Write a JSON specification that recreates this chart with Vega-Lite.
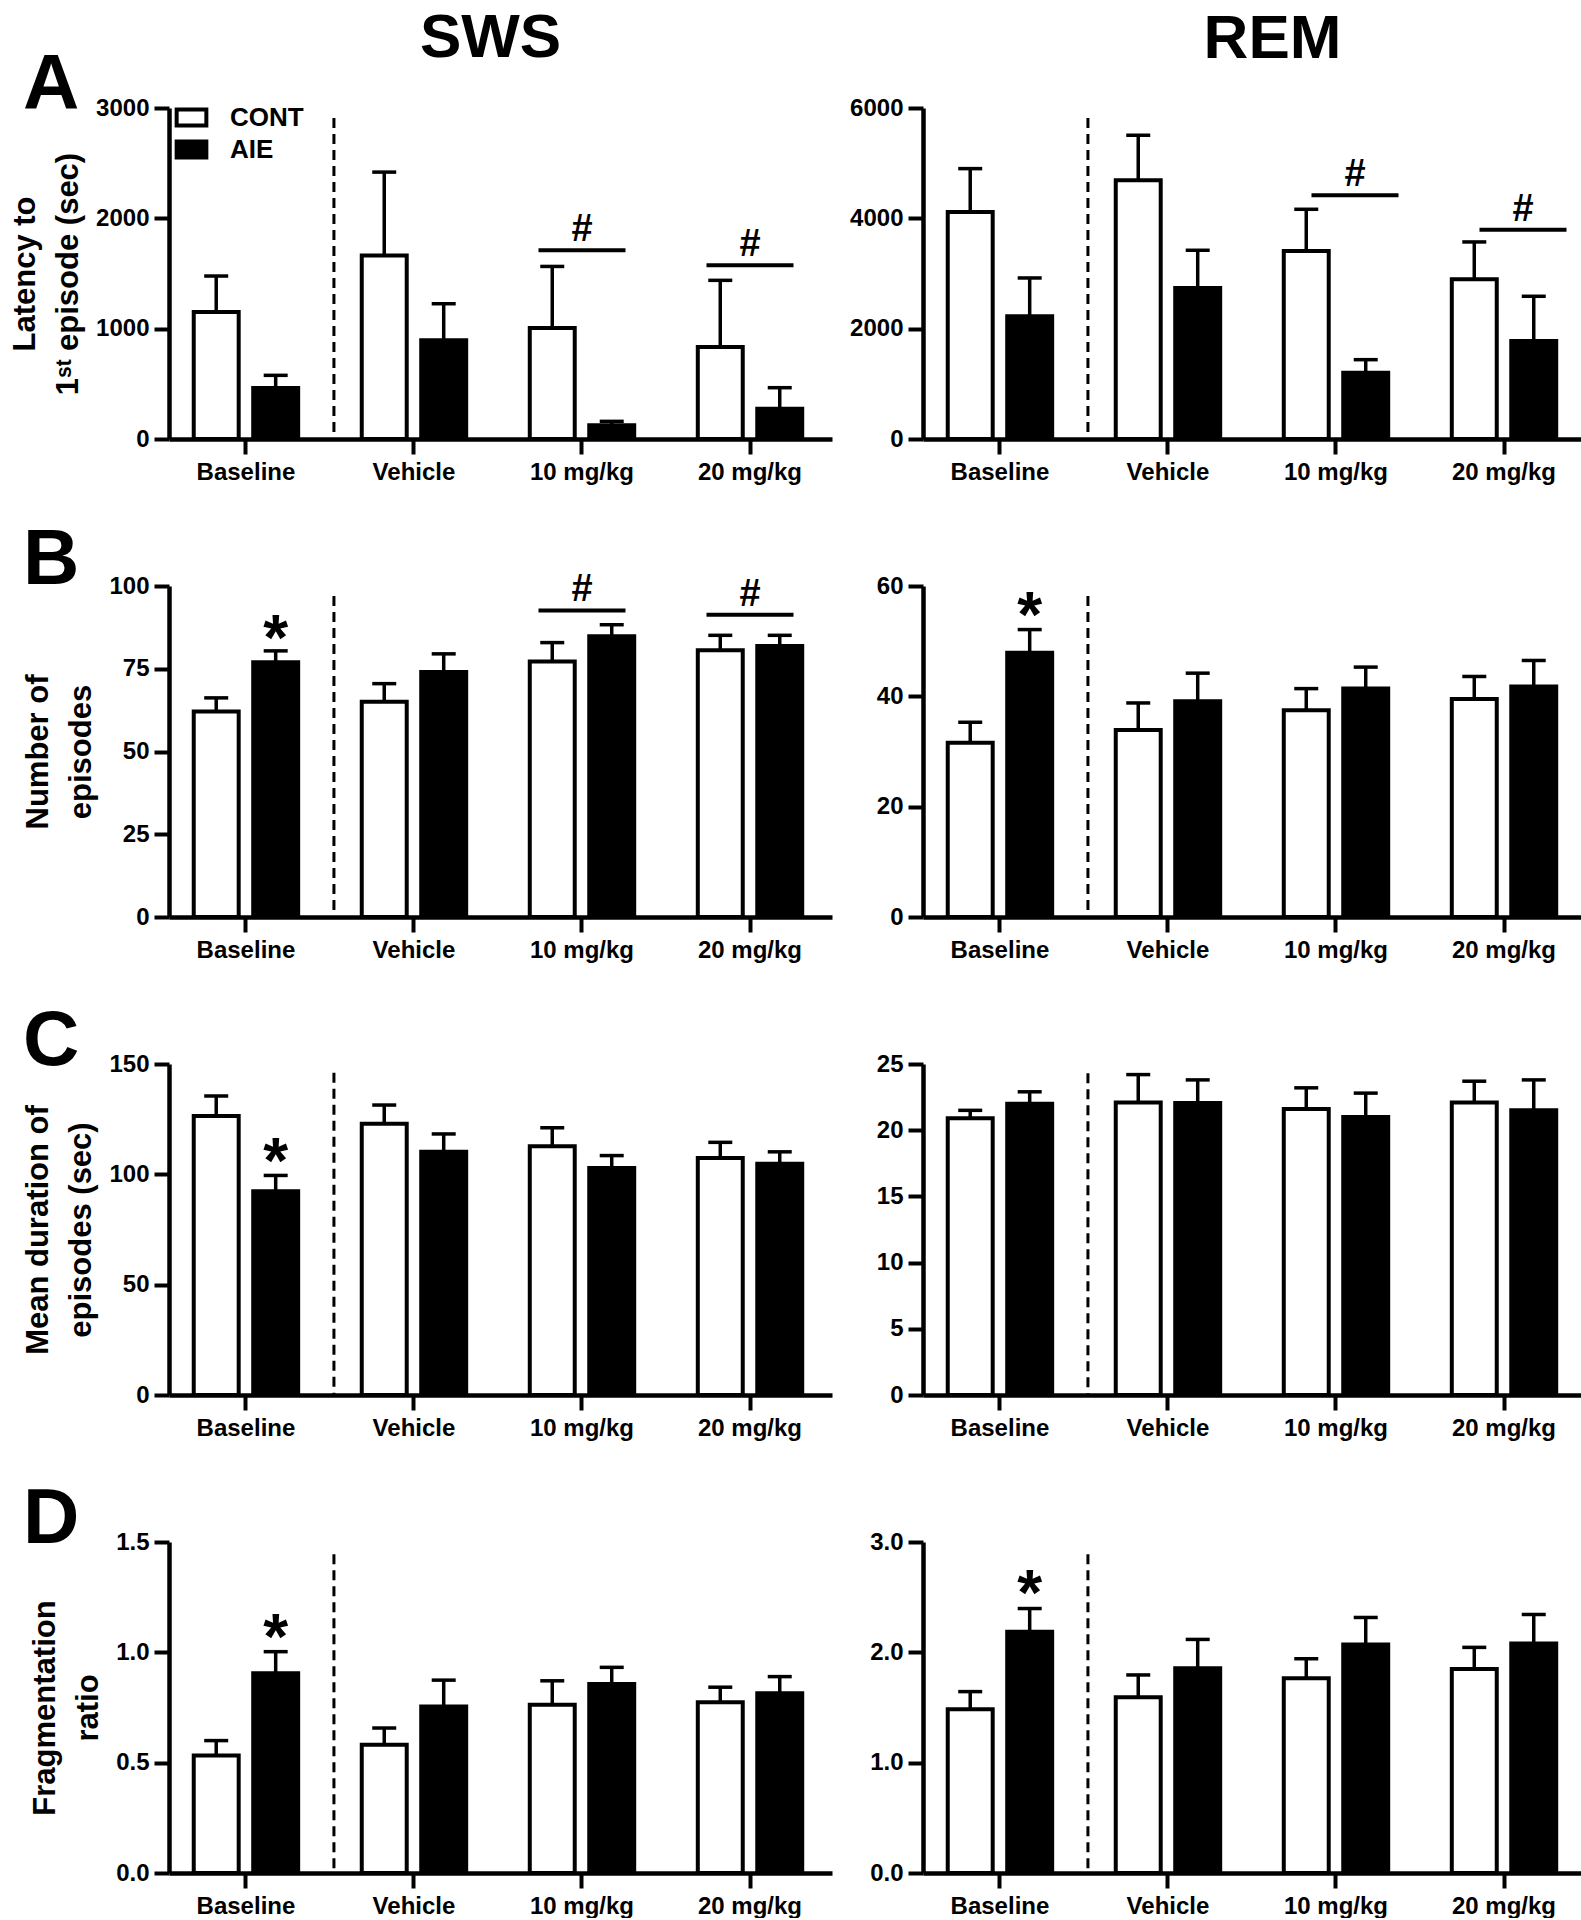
{
"$schema": "https://vega.github.io/schema/vega-lite/v6.json",
"background": "white",
"padding": {"left": 9, "top": 7, "right": 0, "bottom": 0},
"config": {
  "font": "Liberation Sans",
  "view": {"stroke": null},
  "axis": {"domainColor": "black", "domainWidth": 4.5, "tickColor": "black", "tickWidth": 4, "tickSize": 15, "labelFont": "Liberation Sans", "labelFontWeight": "bold", "labelFontSize": 24, "labelColor": "black", "grid": false, "titleFont": "Liberation Sans", "titleFontWeight": "bold", "titleFontSize": 31, "titleColor": "black", "labelPadding": 5},
  "axisX": {"labelAngle": 0, "labelPadding": 6, "labelFlush": false},
  "axisY": {"titlePadding": 11, "titleLineHeight": 43},
  "tick": {"opacity": 1},
  "title": {"font": "Liberation Sans", "fontWeight": "bold", "color": "black"}
},
"title": {"text": "SWS", "fontSize": 62, "fontWeight": "bold", "anchor": "start", "align": "left", "frame": "group", "dx": 251, "offset": -111, "baseline": "alphabetic", "color": "black"},
"columns": 2,
"spacing": {"row": 147, "column": 91},
"bounds": "flush",
"resolve": {"scale": {"fill": "independent", "xOffset": "independent"}, "legend": {"fill": "independent"}},
"concat": [
 {
  "width": 663, "height": 331,
  "title": {"text": "A", "anchor": "start", "frame": "group", "dx": -146, "offset": -91, "baseline": "alphabetic", "fontSize": 78, "fontWeight": "bold", "color": "black"},
  "data": {"values": [
   {"condition": "Baseline", "group": "CONT", "mean": 1150, "upper": 1477},
   {"condition": "Baseline", "group": "AIE", "mean": 462, "upper": 577},
   {"condition": "Vehicle", "group": "CONT", "mean": 1664, "upper": 2419},
   {"condition": "Vehicle", "group": "AIE", "mean": 894, "upper": 1226},
   {"condition": "10 mg/kg", "group": "CONT", "mean": 1006, "upper": 1564},
   {"condition": "10 mg/kg", "group": "AIE", "mean": 124, "upper": 160},
   {"condition": "20 mg/kg", "group": "CONT", "mean": 834, "upper": 1438},
   {"condition": "20 mg/kg", "group": "AIE", "mean": 275, "upper": 465}
  ]},
  "layer": [
   {"mark": {"type": "bar", "stroke": "black", "strokeWidth": 4},
    "encoding": {
     "x": {"field": "condition", "type": "nominal", "title": null, "scale": {"domain": ["Baseline", "Vehicle", "10 mg/kg", "20 mg/kg"], "paddingInner": 0.084, "paddingOuter": 0.015, "align": 0}},
     "xOffset": {"field": "group", "type": "nominal", "scale": {"domain": ["CONT", "AIE"], "paddingInner": 0.244, "paddingOuter": 0.416}},
     "y": {"field": "mean", "type": "quantitative", "scale": {"domain": [0, 3000], "nice": false}, "axis": {"values": [0, 1000, 2000, 3000], "format": "d", "title": ["Latency to", "1ˢᵗ episode (sec)"]}},
     "fill": {"field": "group", "type": "nominal", "scale": {"domain": ["CONT", "AIE"], "range": ["white", "black"]},
      "legend": {"orient": "none", "legendX": 7, "legendY": -6, "title": null, "symbolType": "M-1.1,-0.6H1.1V0.6H-1.1Z", "symbolSize": 729, "symbolStrokeColor": "black", "symbolStrokeWidth": 4, "labelFontSize": 26, "labelFontWeight": "bold", "labelColor": "black", "labelFont": "Liberation Sans", "labelOffset": 23, "rowPadding": -2, "padding": 0}}
    }},
   {"mark": {"type": "rule", "color": "black", "strokeWidth": 3.5},
    "encoding": {
     "x": {"field": "condition", "type": "nominal", "title": null, "scale": {"domain": ["Baseline", "Vehicle", "10 mg/kg", "20 mg/kg"], "paddingInner": 0.084, "paddingOuter": 0.015, "align": 0}},
     "xOffset": {"field": "group", "type": "nominal", "scale": {"domain": ["CONT", "AIE"], "paddingInner": 0.244, "paddingOuter": 0.416}},
     "y": {"field": "mean", "type": "quantitative", "scale": {"domain": [0, 3000], "nice": false}},
     "y2": {"field": "upper"}
    }},
   {"mark": {"type": "tick", "color": "black", "opacity": 1, "size": 24, "thickness": 3.5},
    "encoding": {
     "x": {"field": "condition", "type": "nominal", "title": null, "scale": {"domain": ["Baseline", "Vehicle", "10 mg/kg", "20 mg/kg"], "paddingInner": 0.084, "paddingOuter": 0.015, "align": 0}},
     "xOffset": {"field": "group", "type": "nominal", "scale": {"domain": ["CONT", "AIE"], "paddingInner": 0.244, "paddingOuter": 0.416}},
     "y": {"field": "upper", "type": "quantitative", "scale": {"domain": [0, 3000], "nice": false}}
    }},
   {"data": {"values": [{"condition": "Vehicle"}]},
    "mark": {"type": "rule", "color": "black", "strokeWidth": 3, "strokeDash": [10, 6]},
    "encoding": {
     "x": {"field": "condition", "type": "nominal", "title": null, "bandPosition": -0.02, "scale": {"domain": ["Baseline", "Vehicle", "10 mg/kg", "20 mg/kg"], "paddingInner": 0.084, "paddingOuter": 0.015, "align": 0}},
     "y": {"datum": 2910, "type": "quantitative", "scale": {"domain": [0, 3000], "nice": false}},
     "y2": {"datum": 0}
    }},
   {"data": {"values": [{"condition": "10 mg/kg", "y": 1710, "label": "#"}, {"condition": "20 mg/kg", "y": 1574, "label": "#"}]},
    "layer": [
     {"mark": {"type": "tick", "color": "black", "opacity": 1, "size": 87, "thickness": 4},
      "encoding": {
       "x": {"field": "condition", "type": "nominal", "title": null, "scale": {"domain": ["Baseline", "Vehicle", "10 mg/kg", "20 mg/kg"], "paddingInner": 0.084, "paddingOuter": 0.015, "align": 0}},
       "y": {"field": "y", "type": "quantitative", "scale": {"domain": [0, 3000], "nice": false}}
      }},
     {"mark": {"type": "text", "fontSize": 38, "fontWeight": "bold", "baseline": "alphabetic", "dy": -9, "color": "black"},
      "encoding": {
       "x": {"field": "condition", "type": "nominal", "title": null, "scale": {"domain": ["Baseline", "Vehicle", "10 mg/kg", "20 mg/kg"], "paddingInner": 0.084, "paddingOuter": 0.015, "align": 0}},
       "y": {"field": "y", "type": "quantitative", "scale": {"domain": [0, 3000], "nice": false}},
       "text": {"field": "label"}
      }}
    ]}
  ]
 },
 {
  "width": 663, "height": 331,
  "title": {"text": "REM", "anchor": "middle", "frame": "group", "dx": 18, "offset": -24, "baseline": "alphabetic", "fontSize": 62, "fontWeight": "bold", "color": "black"},
  "data": {"values": [
   {"condition": "Baseline", "group": "CONT", "mean": 4115, "upper": 4901},
   {"condition": "Baseline", "group": "AIE", "mean": 2224, "upper": 2919},
   {"condition": "Vehicle", "group": "CONT", "mean": 4690, "upper": 5506},
   {"condition": "Vehicle", "group": "AIE", "mean": 2738, "upper": 3421},
   {"condition": "10 mg/kg", "group": "CONT", "mean": 3408, "upper": 4164},
   {"condition": "10 mg/kg", "group": "AIE", "mean": 1203, "upper": 1438},
   {"condition": "20 mg/kg", "group": "CONT", "mean": 2895, "upper": 3572},
   {"condition": "20 mg/kg", "group": "AIE", "mean": 1777, "upper": 2587}
  ]},
  "layer": [
   {"mark": {"type": "bar", "stroke": "black", "strokeWidth": 4},
    "encoding": {
     "x": {"field": "condition", "type": "nominal", "title": null, "scale": {"domain": ["Baseline", "Vehicle", "10 mg/kg", "20 mg/kg"], "paddingInner": 0.084, "paddingOuter": 0.015, "align": 0}},
     "xOffset": {"field": "group", "type": "nominal", "scale": {"domain": ["CONT", "AIE"], "paddingInner": 0.244, "paddingOuter": 0.416}},
     "y": {"field": "mean", "type": "quantitative", "scale": {"domain": [0, 6000], "nice": false}, "axis": {"values": [0, 2000, 4000, 6000], "format": "d", "title": null}},
     "fill": {"field": "group", "type": "nominal", "scale": {"domain": ["CONT", "AIE"], "range": ["white", "black"]}, "legend": null}
    }},
   {"mark": {"type": "rule", "color": "black", "strokeWidth": 3.5},
    "encoding": {
     "x": {"field": "condition", "type": "nominal", "title": null, "scale": {"domain": ["Baseline", "Vehicle", "10 mg/kg", "20 mg/kg"], "paddingInner": 0.084, "paddingOuter": 0.015, "align": 0}},
     "xOffset": {"field": "group", "type": "nominal", "scale": {"domain": ["CONT", "AIE"], "paddingInner": 0.244, "paddingOuter": 0.416}},
     "y": {"field": "mean", "type": "quantitative", "scale": {"domain": [0, 6000], "nice": false}},
     "y2": {"field": "upper"}
    }},
   {"mark": {"type": "tick", "color": "black", "opacity": 1, "size": 24, "thickness": 3.5},
    "encoding": {
     "x": {"field": "condition", "type": "nominal", "title": null, "scale": {"domain": ["Baseline", "Vehicle", "10 mg/kg", "20 mg/kg"], "paddingInner": 0.084, "paddingOuter": 0.015, "align": 0}},
     "xOffset": {"field": "group", "type": "nominal", "scale": {"domain": ["CONT", "AIE"], "paddingInner": 0.244, "paddingOuter": 0.416}},
     "y": {"field": "upper", "type": "quantitative", "scale": {"domain": [0, 6000], "nice": false}}
    }},
   {"data": {"values": [{"condition": "Vehicle"}]},
    "mark": {"type": "rule", "color": "black", "strokeWidth": 3, "strokeDash": [10, 6]},
    "encoding": {
     "x": {"field": "condition", "type": "nominal", "title": null, "bandPosition": -0.02, "scale": {"domain": ["Baseline", "Vehicle", "10 mg/kg", "20 mg/kg"], "paddingInner": 0.084, "paddingOuter": 0.015, "align": 0}},
     "y": {"datum": 5820, "type": "quantitative", "scale": {"domain": [0, 6000], "nice": false}},
     "y2": {"datum": 0}
    }},
   {"data": {"values": [{"condition": "10 mg/kg", "y": 4418, "label": "#"}, {"condition": "20 mg/kg", "y": 3795, "label": "#"}]},
    "layer": [
     {"mark": {"type": "tick", "color": "black", "opacity": 1, "size": 87, "thickness": 4, "xOffset": 19},
      "encoding": {
       "x": {"field": "condition", "type": "nominal", "title": null, "scale": {"domain": ["Baseline", "Vehicle", "10 mg/kg", "20 mg/kg"], "paddingInner": 0.084, "paddingOuter": 0.015, "align": 0}},
       "y": {"field": "y", "type": "quantitative", "scale": {"domain": [0, 6000], "nice": false}}
      }},
     {"mark": {"type": "text", "fontSize": 38, "fontWeight": "bold", "baseline": "alphabetic", "dy": -9, "xOffset": 19, "color": "black"},
      "encoding": {
       "x": {"field": "condition", "type": "nominal", "title": null, "scale": {"domain": ["Baseline", "Vehicle", "10 mg/kg", "20 mg/kg"], "paddingInner": 0.084, "paddingOuter": 0.015, "align": 0}},
       "y": {"field": "y", "type": "quantitative", "scale": {"domain": [0, 6000], "nice": false}},
       "text": {"field": "label"}
      }}
    ]}
  ]
 },
 {
  "width": 663, "height": 331,
  "title": {"text": "B", "anchor": "start", "frame": "group", "dx": -146, "offset": -91, "baseline": "alphabetic", "fontSize": 78, "fontWeight": "bold", "color": "black"},
  "data": {"values": [
   {"condition": "Baseline", "group": "CONT", "mean": 62.1, "upper": 66.2},
   {"condition": "Baseline", "group": "AIE", "mean": 77.0, "upper": 80.4},
   {"condition": "Vehicle", "group": "CONT", "mean": 65.0, "upper": 70.5},
   {"condition": "Vehicle", "group": "AIE", "mean": 74.0, "upper": 79.5},
   {"condition": "10 mg/kg", "group": "CONT", "mean": 77.2, "upper": 82.9},
   {"condition": "10 mg/kg", "group": "AIE", "mean": 84.8, "upper": 88.3},
   {"condition": "20 mg/kg", "group": "CONT", "mean": 80.6, "upper": 85.1},
   {"condition": "20 mg/kg", "group": "AIE", "mean": 81.9, "upper": 85.1}
  ]},
  "layer": [
   {"mark": {"type": "bar", "stroke": "black", "strokeWidth": 4},
    "encoding": {
     "x": {"field": "condition", "type": "nominal", "title": null, "scale": {"domain": ["Baseline", "Vehicle", "10 mg/kg", "20 mg/kg"], "paddingInner": 0.084, "paddingOuter": 0.015, "align": 0}},
     "xOffset": {"field": "group", "type": "nominal", "scale": {"domain": ["CONT", "AIE"], "paddingInner": 0.244, "paddingOuter": 0.416}},
     "y": {"field": "mean", "type": "quantitative", "scale": {"domain": [0, 100], "nice": false}, "axis": {"values": [0, 25, 50, 75, 100], "title": ["Number of", "episodes"]}},
     "fill": {"field": "group", "type": "nominal", "scale": {"domain": ["CONT", "AIE"], "range": ["white", "black"]}, "legend": null}
    }},
   {"mark": {"type": "rule", "color": "black", "strokeWidth": 3.5},
    "encoding": {
     "x": {"field": "condition", "type": "nominal", "title": null, "scale": {"domain": ["Baseline", "Vehicle", "10 mg/kg", "20 mg/kg"], "paddingInner": 0.084, "paddingOuter": 0.015, "align": 0}},
     "xOffset": {"field": "group", "type": "nominal", "scale": {"domain": ["CONT", "AIE"], "paddingInner": 0.244, "paddingOuter": 0.416}},
     "y": {"field": "mean", "type": "quantitative", "scale": {"domain": [0, 100], "nice": false}},
     "y2": {"field": "upper"}
    }},
   {"mark": {"type": "tick", "color": "black", "opacity": 1, "size": 24, "thickness": 3.5},
    "encoding": {
     "x": {"field": "condition", "type": "nominal", "title": null, "scale": {"domain": ["Baseline", "Vehicle", "10 mg/kg", "20 mg/kg"], "paddingInner": 0.084, "paddingOuter": 0.015, "align": 0}},
     "xOffset": {"field": "group", "type": "nominal", "scale": {"domain": ["CONT", "AIE"], "paddingInner": 0.244, "paddingOuter": 0.416}},
     "y": {"field": "upper", "type": "quantitative", "scale": {"domain": [0, 100], "nice": false}}
    }},
   {"data": {"values": [{"condition": "Vehicle"}]},
    "mark": {"type": "rule", "color": "black", "strokeWidth": 3, "strokeDash": [10, 6]},
    "encoding": {
     "x": {"field": "condition", "type": "nominal", "title": null, "bandPosition": -0.02, "scale": {"domain": ["Baseline", "Vehicle", "10 mg/kg", "20 mg/kg"], "paddingInner": 0.084, "paddingOuter": 0.015, "align": 0}},
     "y": {"datum": 97, "type": "quantitative", "scale": {"domain": [0, 100], "nice": false}},
     "y2": {"datum": 0}
    }},
   {"data": {"values": [{"condition": "10 mg/kg", "y": 92.6, "label": "#"}, {"condition": "20 mg/kg", "y": 91.3, "label": "#"}]},
    "layer": [
     {"mark": {"type": "tick", "color": "black", "opacity": 1, "size": 87, "thickness": 4},
      "encoding": {
       "x": {"field": "condition", "type": "nominal", "title": null, "scale": {"domain": ["Baseline", "Vehicle", "10 mg/kg", "20 mg/kg"], "paddingInner": 0.084, "paddingOuter": 0.015, "align": 0}},
       "y": {"field": "y", "type": "quantitative", "scale": {"domain": [0, 100], "nice": false}}
      }},
     {"mark": {"type": "text", "fontSize": 38, "fontWeight": "bold", "baseline": "alphabetic", "dy": -9, "color": "black"},
      "encoding": {
       "x": {"field": "condition", "type": "nominal", "title": null, "scale": {"domain": ["Baseline", "Vehicle", "10 mg/kg", "20 mg/kg"], "paddingInner": 0.084, "paddingOuter": 0.015, "align": 0}},
       "y": {"field": "y", "type": "quantitative", "scale": {"domain": [0, 100], "nice": false}},
       "text": {"field": "label"}
      }}
    ]},
   {"data": {"values": [{"condition": "Baseline", "group": "AIE", "y": 87.3, "label": "*"}]},
    "mark": {"type": "text", "fontSize": 64, "fontWeight": "bold", "baseline": "middle", "dy": 13, "color": "black"},
    "encoding": {
     "x": {"field": "condition", "type": "nominal", "title": null, "scale": {"domain": ["Baseline", "Vehicle", "10 mg/kg", "20 mg/kg"], "paddingInner": 0.084, "paddingOuter": 0.015, "align": 0}},
     "xOffset": {"field": "group", "type": "nominal", "scale": {"domain": ["CONT", "AIE"], "paddingInner": 0.244, "paddingOuter": 0.416}},
     "y": {"field": "y", "type": "quantitative", "scale": {"domain": [0, 100], "nice": false}},
     "text": {"field": "label"}
    }}
  ]
 },
 {
  "width": 663, "height": 331,
  "data": {"values": [
   {"condition": "Baseline", "group": "CONT", "mean": 31.6, "upper": 35.3},
   {"condition": "Baseline", "group": "AIE", "mean": 47.9, "upper": 52.1},
   {"condition": "Vehicle", "group": "CONT", "mean": 33.9, "upper": 38.8},
   {"condition": "Vehicle", "group": "AIE", "mean": 39.1, "upper": 44.2},
   {"condition": "10 mg/kg", "group": "CONT", "mean": 37.5, "upper": 41.4},
   {"condition": "10 mg/kg", "group": "AIE", "mean": 41.4, "upper": 45.3},
   {"condition": "20 mg/kg", "group": "CONT", "mean": 39.5, "upper": 43.6},
   {"condition": "20 mg/kg", "group": "AIE", "mean": 41.8, "upper": 46.5}
  ]},
  "layer": [
   {"mark": {"type": "bar", "stroke": "black", "strokeWidth": 4},
    "encoding": {
     "x": {"field": "condition", "type": "nominal", "title": null, "scale": {"domain": ["Baseline", "Vehicle", "10 mg/kg", "20 mg/kg"], "paddingInner": 0.084, "paddingOuter": 0.015, "align": 0}},
     "xOffset": {"field": "group", "type": "nominal", "scale": {"domain": ["CONT", "AIE"], "paddingInner": 0.244, "paddingOuter": 0.416}},
     "y": {"field": "mean", "type": "quantitative", "scale": {"domain": [0, 60], "nice": false}, "axis": {"values": [0, 20, 40, 60], "title": null}},
     "fill": {"field": "group", "type": "nominal", "scale": {"domain": ["CONT", "AIE"], "range": ["white", "black"]}, "legend": null}
    }},
   {"mark": {"type": "rule", "color": "black", "strokeWidth": 3.5},
    "encoding": {
     "x": {"field": "condition", "type": "nominal", "title": null, "scale": {"domain": ["Baseline", "Vehicle", "10 mg/kg", "20 mg/kg"], "paddingInner": 0.084, "paddingOuter": 0.015, "align": 0}},
     "xOffset": {"field": "group", "type": "nominal", "scale": {"domain": ["CONT", "AIE"], "paddingInner": 0.244, "paddingOuter": 0.416}},
     "y": {"field": "mean", "type": "quantitative", "scale": {"domain": [0, 60], "nice": false}},
     "y2": {"field": "upper"}
    }},
   {"mark": {"type": "tick", "color": "black", "opacity": 1, "size": 24, "thickness": 3.5},
    "encoding": {
     "x": {"field": "condition", "type": "nominal", "title": null, "scale": {"domain": ["Baseline", "Vehicle", "10 mg/kg", "20 mg/kg"], "paddingInner": 0.084, "paddingOuter": 0.015, "align": 0}},
     "xOffset": {"field": "group", "type": "nominal", "scale": {"domain": ["CONT", "AIE"], "paddingInner": 0.244, "paddingOuter": 0.416}},
     "y": {"field": "upper", "type": "quantitative", "scale": {"domain": [0, 60], "nice": false}}
    }},
   {"data": {"values": [{"condition": "Vehicle"}]},
    "mark": {"type": "rule", "color": "black", "strokeWidth": 3, "strokeDash": [10, 6]},
    "encoding": {
     "x": {"field": "condition", "type": "nominal", "title": null, "bandPosition": -0.02, "scale": {"domain": ["Baseline", "Vehicle", "10 mg/kg", "20 mg/kg"], "paddingInner": 0.084, "paddingOuter": 0.015, "align": 0}},
     "y": {"datum": 58.2, "type": "quantitative", "scale": {"domain": [0, 60], "nice": false}},
     "y2": {"datum": 0}
    }},
   {"data": {"values": [{"condition": "Baseline", "group": "AIE", "y": 56.5, "label": "*"}]},
    "mark": {"type": "text", "fontSize": 64, "fontWeight": "bold", "baseline": "middle", "dy": 13, "color": "black"},
    "encoding": {
     "x": {"field": "condition", "type": "nominal", "title": null, "scale": {"domain": ["Baseline", "Vehicle", "10 mg/kg", "20 mg/kg"], "paddingInner": 0.084, "paddingOuter": 0.015, "align": 0}},
     "xOffset": {"field": "group", "type": "nominal", "scale": {"domain": ["CONT", "AIE"], "paddingInner": 0.244, "paddingOuter": 0.416}},
     "y": {"field": "y", "type": "quantitative", "scale": {"domain": [0, 60], "nice": false}},
     "text": {"field": "label"}
    }}
  ]
 },
 {
  "width": 663, "height": 331,
  "title": {"text": "C", "anchor": "start", "frame": "group", "dx": -146, "offset": -91, "baseline": "alphabetic", "fontSize": 78, "fontWeight": "bold", "color": "black"},
  "data": {"values": [
   {"condition": "Baseline", "group": "CONT", "mean": 126.4, "upper": 135.5},
   {"condition": "Baseline", "group": "AIE", "mean": 92.3, "upper": 99.5},
   {"condition": "Vehicle", "group": "CONT", "mean": 122.9, "upper": 131.4},
   {"condition": "Vehicle", "group": "AIE", "mean": 110.2, "upper": 118.3},
   {"condition": "10 mg/kg", "group": "CONT", "mean": 112.7, "upper": 121.1},
   {"condition": "10 mg/kg", "group": "AIE", "mean": 102.9, "upper": 108.5},
   {"condition": "20 mg/kg", "group": "CONT", "mean": 107.4, "upper": 114.5},
   {"condition": "20 mg/kg", "group": "AIE", "mean": 104.8, "upper": 110.2}
  ]},
  "layer": [
   {"mark": {"type": "bar", "stroke": "black", "strokeWidth": 4},
    "encoding": {
     "x": {"field": "condition", "type": "nominal", "title": null, "scale": {"domain": ["Baseline", "Vehicle", "10 mg/kg", "20 mg/kg"], "paddingInner": 0.084, "paddingOuter": 0.015, "align": 0}},
     "xOffset": {"field": "group", "type": "nominal", "scale": {"domain": ["CONT", "AIE"], "paddingInner": 0.244, "paddingOuter": 0.416}},
     "y": {"field": "mean", "type": "quantitative", "scale": {"domain": [0, 150], "nice": false}, "axis": {"values": [0, 50, 100, 150], "title": ["Mean duration of", "episodes (sec)"]}},
     "fill": {"field": "group", "type": "nominal", "scale": {"domain": ["CONT", "AIE"], "range": ["white", "black"]}, "legend": null}
    }},
   {"mark": {"type": "rule", "color": "black", "strokeWidth": 3.5},
    "encoding": {
     "x": {"field": "condition", "type": "nominal", "title": null, "scale": {"domain": ["Baseline", "Vehicle", "10 mg/kg", "20 mg/kg"], "paddingInner": 0.084, "paddingOuter": 0.015, "align": 0}},
     "xOffset": {"field": "group", "type": "nominal", "scale": {"domain": ["CONT", "AIE"], "paddingInner": 0.244, "paddingOuter": 0.416}},
     "y": {"field": "mean", "type": "quantitative", "scale": {"domain": [0, 150], "nice": false}},
     "y2": {"field": "upper"}
    }},
   {"mark": {"type": "tick", "color": "black", "opacity": 1, "size": 24, "thickness": 3.5},
    "encoding": {
     "x": {"field": "condition", "type": "nominal", "title": null, "scale": {"domain": ["Baseline", "Vehicle", "10 mg/kg", "20 mg/kg"], "paddingInner": 0.084, "paddingOuter": 0.015, "align": 0}},
     "xOffset": {"field": "group", "type": "nominal", "scale": {"domain": ["CONT", "AIE"], "paddingInner": 0.244, "paddingOuter": 0.416}},
     "y": {"field": "upper", "type": "quantitative", "scale": {"domain": [0, 150], "nice": false}}
    }},
   {"data": {"values": [{"condition": "Vehicle"}]},
    "mark": {"type": "rule", "color": "black", "strokeWidth": 3, "strokeDash": [10, 6]},
    "encoding": {
     "x": {"field": "condition", "type": "nominal", "title": null, "bandPosition": -0.02, "scale": {"domain": ["Baseline", "Vehicle", "10 mg/kg", "20 mg/kg"], "paddingInner": 0.084, "paddingOuter": 0.015, "align": 0}},
     "y": {"datum": 146, "type": "quantitative", "scale": {"domain": [0, 150], "nice": false}},
     "y2": {"datum": 0}
    }},
   {"data": {"values": [{"condition": "Baseline", "group": "AIE", "y": 110.5, "label": "*"}]},
    "mark": {"type": "text", "fontSize": 64, "fontWeight": "bold", "baseline": "middle", "dy": 13, "color": "black"},
    "encoding": {
     "x": {"field": "condition", "type": "nominal", "title": null, "scale": {"domain": ["Baseline", "Vehicle", "10 mg/kg", "20 mg/kg"], "paddingInner": 0.084, "paddingOuter": 0.015, "align": 0}},
     "xOffset": {"field": "group", "type": "nominal", "scale": {"domain": ["CONT", "AIE"], "paddingInner": 0.244, "paddingOuter": 0.416}},
     "y": {"field": "y", "type": "quantitative", "scale": {"domain": [0, 150], "nice": false}},
     "text": {"field": "label"}
    }}
  ]
 },
 {
  "width": 663, "height": 331,
  "data": {"values": [
   {"condition": "Baseline", "group": "CONT", "mean": 20.9, "upper": 21.5},
   {"condition": "Baseline", "group": "AIE", "mean": 22.0, "upper": 22.9},
   {"condition": "Vehicle", "group": "CONT", "mean": 22.1, "upper": 24.2},
   {"condition": "Vehicle", "group": "AIE", "mean": 22.05, "upper": 23.8},
   {"condition": "10 mg/kg", "group": "CONT", "mean": 21.6, "upper": 23.2},
   {"condition": "10 mg/kg", "group": "AIE", "mean": 21.0, "upper": 22.8},
   {"condition": "20 mg/kg", "group": "CONT", "mean": 22.1, "upper": 23.7},
   {"condition": "20 mg/kg", "group": "AIE", "mean": 21.5, "upper": 23.8}
  ]},
  "layer": [
   {"mark": {"type": "bar", "stroke": "black", "strokeWidth": 4},
    "encoding": {
     "x": {"field": "condition", "type": "nominal", "title": null, "scale": {"domain": ["Baseline", "Vehicle", "10 mg/kg", "20 mg/kg"], "paddingInner": 0.084, "paddingOuter": 0.015, "align": 0}},
     "xOffset": {"field": "group", "type": "nominal", "scale": {"domain": ["CONT", "AIE"], "paddingInner": 0.244, "paddingOuter": 0.416}},
     "y": {"field": "mean", "type": "quantitative", "scale": {"domain": [0, 25], "nice": false}, "axis": {"values": [0, 5, 10, 15, 20, 25], "title": null}},
     "fill": {"field": "group", "type": "nominal", "scale": {"domain": ["CONT", "AIE"], "range": ["white", "black"]}, "legend": null}
    }},
   {"mark": {"type": "rule", "color": "black", "strokeWidth": 3.5},
    "encoding": {
     "x": {"field": "condition", "type": "nominal", "title": null, "scale": {"domain": ["Baseline", "Vehicle", "10 mg/kg", "20 mg/kg"], "paddingInner": 0.084, "paddingOuter": 0.015, "align": 0}},
     "xOffset": {"field": "group", "type": "nominal", "scale": {"domain": ["CONT", "AIE"], "paddingInner": 0.244, "paddingOuter": 0.416}},
     "y": {"field": "mean", "type": "quantitative", "scale": {"domain": [0, 25], "nice": false}},
     "y2": {"field": "upper"}
    }},
   {"mark": {"type": "tick", "color": "black", "opacity": 1, "size": 24, "thickness": 3.5},
    "encoding": {
     "x": {"field": "condition", "type": "nominal", "title": null, "scale": {"domain": ["Baseline", "Vehicle", "10 mg/kg", "20 mg/kg"], "paddingInner": 0.084, "paddingOuter": 0.015, "align": 0}},
     "xOffset": {"field": "group", "type": "nominal", "scale": {"domain": ["CONT", "AIE"], "paddingInner": 0.244, "paddingOuter": 0.416}},
     "y": {"field": "upper", "type": "quantitative", "scale": {"domain": [0, 25], "nice": false}}
    }},
   {"data": {"values": [{"condition": "Vehicle"}]},
    "mark": {"type": "rule", "color": "black", "strokeWidth": 3, "strokeDash": [10, 6]},
    "encoding": {
     "x": {"field": "condition", "type": "nominal", "title": null, "bandPosition": -0.02, "scale": {"domain": ["Baseline", "Vehicle", "10 mg/kg", "20 mg/kg"], "paddingInner": 0.084, "paddingOuter": 0.015, "align": 0}},
     "y": {"datum": 24.3, "type": "quantitative", "scale": {"domain": [0, 25], "nice": false}},
     "y2": {"datum": 0}
    }}
  ]
 },
 {
  "width": 663, "height": 331,
  "title": {"text": "D", "anchor": "start", "frame": "group", "dx": -146, "offset": -91, "baseline": "alphabetic", "fontSize": 78, "fontWeight": "bold", "color": "black"},
  "data": {"values": [
   {"condition": "Baseline", "group": "CONT", "mean": 0.533, "upper": 0.600},
   {"condition": "Baseline", "group": "AIE", "mean": 0.905, "upper": 1.003},
   {"condition": "Vehicle", "group": "CONT", "mean": 0.581, "upper": 0.657},
   {"condition": "Vehicle", "group": "AIE", "mean": 0.755, "upper": 0.874},
   {"condition": "10 mg/kg", "group": "CONT", "mean": 0.762, "upper": 0.871},
   {"condition": "10 mg/kg", "group": "AIE", "mean": 0.856, "upper": 0.932},
   {"condition": "20 mg/kg", "group": "CONT", "mean": 0.774, "upper": 0.842},
   {"condition": "20 mg/kg", "group": "AIE", "mean": 0.815, "upper": 0.890}
  ]},
  "layer": [
   {"mark": {"type": "bar", "stroke": "black", "strokeWidth": 4},
    "encoding": {
     "x": {"field": "condition", "type": "nominal", "title": null, "scale": {"domain": ["Baseline", "Vehicle", "10 mg/kg", "20 mg/kg"], "paddingInner": 0.084, "paddingOuter": 0.015, "align": 0}},
     "xOffset": {"field": "group", "type": "nominal", "scale": {"domain": ["CONT", "AIE"], "paddingInner": 0.244, "paddingOuter": 0.416}},
     "y": {"field": "mean", "type": "quantitative", "scale": {"domain": [0, 1.5], "nice": false}, "axis": {"values": [0, 0.5, 1, 1.5], "format": ".1f", "title": ["Fragmentation", "ratio"]}},
     "fill": {"field": "group", "type": "nominal", "scale": {"domain": ["CONT", "AIE"], "range": ["white", "black"]}, "legend": null}
    }},
   {"mark": {"type": "rule", "color": "black", "strokeWidth": 3.5},
    "encoding": {
     "x": {"field": "condition", "type": "nominal", "title": null, "scale": {"domain": ["Baseline", "Vehicle", "10 mg/kg", "20 mg/kg"], "paddingInner": 0.084, "paddingOuter": 0.015, "align": 0}},
     "xOffset": {"field": "group", "type": "nominal", "scale": {"domain": ["CONT", "AIE"], "paddingInner": 0.244, "paddingOuter": 0.416}},
     "y": {"field": "mean", "type": "quantitative", "scale": {"domain": [0, 1.5], "nice": false}},
     "y2": {"field": "upper"}
    }},
   {"mark": {"type": "tick", "color": "black", "opacity": 1, "size": 24, "thickness": 3.5},
    "encoding": {
     "x": {"field": "condition", "type": "nominal", "title": null, "scale": {"domain": ["Baseline", "Vehicle", "10 mg/kg", "20 mg/kg"], "paddingInner": 0.084, "paddingOuter": 0.015, "align": 0}},
     "xOffset": {"field": "group", "type": "nominal", "scale": {"domain": ["CONT", "AIE"], "paddingInner": 0.244, "paddingOuter": 0.416}},
     "y": {"field": "upper", "type": "quantitative", "scale": {"domain": [0, 1.5], "nice": false}}
    }},
   {"data": {"values": [{"condition": "Vehicle"}]},
    "mark": {"type": "rule", "color": "black", "strokeWidth": 3, "strokeDash": [10, 6]},
    "encoding": {
     "x": {"field": "condition", "type": "nominal", "title": null, "bandPosition": -0.02, "scale": {"domain": ["Baseline", "Vehicle", "10 mg/kg", "20 mg/kg"], "paddingInner": 0.084, "paddingOuter": 0.015, "align": 0}},
     "y": {"datum": 1.445, "type": "quantitative", "scale": {"domain": [0, 1.5], "nice": false}},
     "y2": {"datum": 0}
    }},
   {"data": {"values": [{"condition": "Baseline", "group": "AIE", "y": 1.116, "label": "*"}]},
    "mark": {"type": "text", "fontSize": 64, "fontWeight": "bold", "baseline": "middle", "dy": 13, "color": "black"},
    "encoding": {
     "x": {"field": "condition", "type": "nominal", "title": null, "scale": {"domain": ["Baseline", "Vehicle", "10 mg/kg", "20 mg/kg"], "paddingInner": 0.084, "paddingOuter": 0.015, "align": 0}},
     "xOffset": {"field": "group", "type": "nominal", "scale": {"domain": ["CONT", "AIE"], "paddingInner": 0.244, "paddingOuter": 0.416}},
     "y": {"field": "y", "type": "quantitative", "scale": {"domain": [0, 1.5], "nice": false}},
     "text": {"field": "label"}
    }}
  ]
 },
 {
  "width": 663, "height": 331,
  "data": {"values": [
   {"condition": "Baseline", "group": "CONT", "mean": 1.485, "upper": 1.644},
   {"condition": "Baseline", "group": "AIE", "mean": 2.186, "upper": 2.397},
   {"condition": "Vehicle", "group": "CONT", "mean": 1.593, "upper": 1.795},
   {"condition": "Vehicle", "group": "AIE", "mean": 1.855, "upper": 2.117},
   {"condition": "10 mg/kg", "group": "CONT", "mean": 1.765, "upper": 1.942},
   {"condition": "10 mg/kg", "group": "AIE", "mean": 2.072, "upper": 2.316},
   {"condition": "20 mg/kg", "group": "CONT", "mean": 1.849, "upper": 2.045},
   {"condition": "20 mg/kg", "group": "AIE", "mean": 2.081, "upper": 2.343}
  ]},
  "layer": [
   {"mark": {"type": "bar", "stroke": "black", "strokeWidth": 4},
    "encoding": {
     "x": {"field": "condition", "type": "nominal", "title": null, "scale": {"domain": ["Baseline", "Vehicle", "10 mg/kg", "20 mg/kg"], "paddingInner": 0.084, "paddingOuter": 0.015, "align": 0}},
     "xOffset": {"field": "group", "type": "nominal", "scale": {"domain": ["CONT", "AIE"], "paddingInner": 0.244, "paddingOuter": 0.416}},
     "y": {"field": "mean", "type": "quantitative", "scale": {"domain": [0, 3], "nice": false}, "axis": {"values": [0, 1, 2, 3], "format": ".1f", "title": null}},
     "fill": {"field": "group", "type": "nominal", "scale": {"domain": ["CONT", "AIE"], "range": ["white", "black"]}, "legend": null}
    }},
   {"mark": {"type": "rule", "color": "black", "strokeWidth": 3.5},
    "encoding": {
     "x": {"field": "condition", "type": "nominal", "title": null, "scale": {"domain": ["Baseline", "Vehicle", "10 mg/kg", "20 mg/kg"], "paddingInner": 0.084, "paddingOuter": 0.015, "align": 0}},
     "xOffset": {"field": "group", "type": "nominal", "scale": {"domain": ["CONT", "AIE"], "paddingInner": 0.244, "paddingOuter": 0.416}},
     "y": {"field": "mean", "type": "quantitative", "scale": {"domain": [0, 3], "nice": false}},
     "y2": {"field": "upper"}
    }},
   {"mark": {"type": "tick", "color": "black", "opacity": 1, "size": 24, "thickness": 3.5},
    "encoding": {
     "x": {"field": "condition", "type": "nominal", "title": null, "scale": {"domain": ["Baseline", "Vehicle", "10 mg/kg", "20 mg/kg"], "paddingInner": 0.084, "paddingOuter": 0.015, "align": 0}},
     "xOffset": {"field": "group", "type": "nominal", "scale": {"domain": ["CONT", "AIE"], "paddingInner": 0.244, "paddingOuter": 0.416}},
     "y": {"field": "upper", "type": "quantitative", "scale": {"domain": [0, 3], "nice": false}}
    }},
   {"data": {"values": [{"condition": "Vehicle"}]},
    "mark": {"type": "rule", "color": "black", "strokeWidth": 3, "strokeDash": [10, 6]},
    "encoding": {
     "x": {"field": "condition", "type": "nominal", "title": null, "bandPosition": -0.02, "scale": {"domain": ["Baseline", "Vehicle", "10 mg/kg", "20 mg/kg"], "paddingInner": 0.084, "paddingOuter": 0.015, "align": 0}},
     "y": {"datum": 2.89, "type": "quantitative", "scale": {"domain": [0, 3], "nice": false}},
     "y2": {"datum": 0}
    }},
   {"data": {"values": [{"condition": "Baseline", "group": "AIE", "y": 2.63, "label": "*"}]},
    "mark": {"type": "text", "fontSize": 64, "fontWeight": "bold", "baseline": "middle", "dy": 13, "color": "black"},
    "encoding": {
     "x": {"field": "condition", "type": "nominal", "title": null, "scale": {"domain": ["Baseline", "Vehicle", "10 mg/kg", "20 mg/kg"], "paddingInner": 0.084, "paddingOuter": 0.015, "align": 0}},
     "xOffset": {"field": "group", "type": "nominal", "scale": {"domain": ["CONT", "AIE"], "paddingInner": 0.244, "paddingOuter": 0.416}},
     "y": {"field": "y", "type": "quantitative", "scale": {"domain": [0, 3], "nice": false}},
     "text": {"field": "label"}
    }}
  ]
 }
]
}
